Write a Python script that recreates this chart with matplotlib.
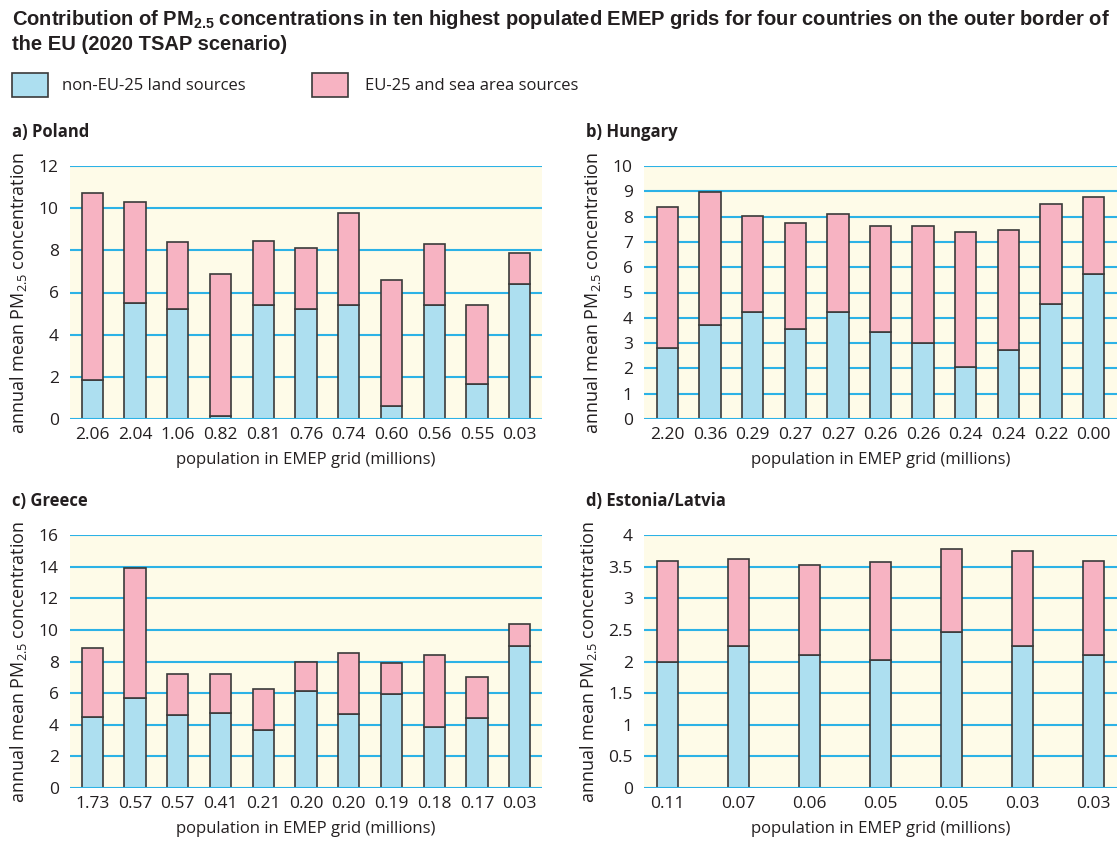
import matplotlib.pyplot as plt
from matplotlib.patches import Rectangle

plt.rcParams["font.family"] = ["Open Sans", "DejaVu Sans"]
plt.rcParams["mathtext.fontset"] = "custom"
plt.rcParams["mathtext.rm"] = "Open Sans"
plt.rcParams["mathtext.bf"] = "Liberation Sans:bold"

BLUE = "#addff0"
PINK = "#f7b3c2"
BG = "#fefbe8"
GRID = "#2cb2e6"
EDGE = "#3a3a3a"

# a) Poland
poland_pop = ["2.06", "2.04", "1.06", "0.82", "0.81", "0.76", "0.74", "0.60", "0.56", "0.55", "0.03"]
poland_non_eu = [1.85, 5.49, 5.24, 0.14, 5.42, 5.23, 5.40, 0.60, 5.43, 1.64, 6.38]
poland_total = [10.71, 10.28, 8.40, 6.87, 8.46, 8.13, 9.79, 6.60, 8.29, 5.40, 7.88]

# b) Hungary
hungary_pop = ["2.20", "0.36", "0.29", "0.27", "0.27", "0.26", "0.26", "0.24", "0.24", "0.22", "0.00"]
hungary_non_eu = [2.80, 3.72, 4.22, 3.55, 4.22, 3.42, 3.00, 2.07, 2.71, 4.53, 5.72]
hungary_total = [8.37, 8.99, 8.04, 7.75, 8.09, 7.61, 7.62, 7.38, 7.47, 8.50, 8.76]

# c) Greece
greece_pop = ["1.73", "0.57", "0.57", "0.41", "0.21", "0.20", "0.20", "0.19", "0.18", "0.17", "0.03"]
greece_non_eu = [4.52, 5.68, 4.60, 4.75, 3.65, 6.16, 4.71, 5.93, 3.88, 4.45, 8.97]
greece_total = [8.84, 13.89, 7.18, 7.20, 6.23, 7.96, 8.55, 7.92, 8.42, 7.03, 10.36]

# d) Estonia/Latvia
baltic_pop = ["0.11", "0.07", "0.06", "0.05", "0.05", "0.03", "0.03"]
baltic_non_eu = [2.00, 2.24, 2.10, 2.02, 2.47, 2.24, 2.11]
baltic_total = [3.59, 3.62, 3.53, 3.57, 3.78, 3.75, 3.59]

W, H = 1119, 844


def panel(fig, rect_px, title, pop, non_eu, total, ymax, ystep, width, pad, fmt="{:g}"):
    x0, y0, x1, y1 = rect_px
    ax = fig.add_axes([x0 / W, 1 - y1 / H, (x1 - x0) / W, (y1 - y0) / H])
    ax.set_facecolor(BG)
    xs = list(range(len(pop)))
    eu = [t - n for t, n in zip(total, non_eu)]
    ax.bar(xs, non_eu, width=width, color=BLUE, edgecolor=EDGE, lw=1.2, zorder=3)
    ax.bar(xs, eu, bottom=non_eu, width=width, color=PINK, edgecolor=EDGE, lw=1.2, zorder=3)
    ticks = [i * ystep for i in range(int(round(ymax / ystep)) + 1)]
    for t in ticks:
        ax.axhline(t, color=GRID, lw=1.5, zorder=1 if t > 0 else 4)
    ax.set_ylim(0, ymax)
    ax.set_xlim(-pad, len(pop) - 1 + pad)
    ax.set_yticks(ticks)
    ax.set_yticklabels([fmt.format(t) for t in ticks], fontsize=12.5, color="#231f20")
    ax.set_xticks(xs)
    ax.set_xticklabels(pop, fontsize=12.5, color="#231f20")
    ax.tick_params(length=0, pad=6)
    ax.tick_params(axis="y", pad=8)
    for s in ax.spines.values():
        s.set_visible(False)
    ax.set_xlabel("population in EMEP grid (millions)", fontsize=12, color="#231f20", labelpad=6)
    ax.set_ylabel(r"annual mean PM$_{\mathrm{2.5}}$ concentration", fontsize=13, color="#231f20", labelpad=7)
    fig.text((x0 - 58) / W, 1 - (y0 - 34) / H, title, fontsize=12, weight="bold",
             color="#231f20", ha="left", va="center")
    return ax


fig = plt.figure(figsize=(W / 100, H / 100), dpi=100)
fig.patch.set_facecolor("white")

fig.text(12 / W, 1 - 31 / H,
         "Contribution of PM$_{\\mathbf{2.5}}$ concentrations in ten highest populated EMEP grids for four countries on the outer border of\nthe EU (2020 TSAP scenario)",
         fontsize=14.5, weight="bold", family="Liberation Sans", ha="left", va="center",
         linespacing=1.25, color="#231f20")

fig.patches.append(Rectangle((12 / W, 1 - 97 / H), 36 / W, 24 / H, transform=fig.transFigure,
                             facecolor=BLUE, edgecolor=EDGE, lw=1.2))
fig.text(62 / W, 1 - 86 / H, "non-EU-25 land sources", fontsize=12, color="#231f20", va="center")
fig.patches.append(Rectangle((312 / W, 1 - 97 / H), 36 / W, 24 / H, transform=fig.transFigure,
                             facecolor=PINK, edgecolor=EDGE, lw=1.2))
fig.text(365 / W, 1 - 86 / H, "EU-25 and sea area sources", fontsize=12, color="#231f20", va="center")

panel(fig, (70, 166, 542, 419), "a) Poland", poland_pop, poland_non_eu, poland_total, 12, 2, 0.5, 0.52)
panel(fig, (644, 166, 1117, 419), "b) Hungary", hungary_pop, hungary_non_eu, hungary_total, 10, 1, 0.5, 0.55)
panel(fig, (70, 535, 542, 788), "c) Greece", greece_pop, greece_non_eu, greece_total, 16, 2, 0.5, 0.52)
panel(fig, (644, 535, 1117, 788), "d) Estonia/Latvia", baltic_pop, baltic_non_eu, baltic_total, 4, 0.5, 0.3, 0.33)

fig.savefig("out.png", dpi=100)
